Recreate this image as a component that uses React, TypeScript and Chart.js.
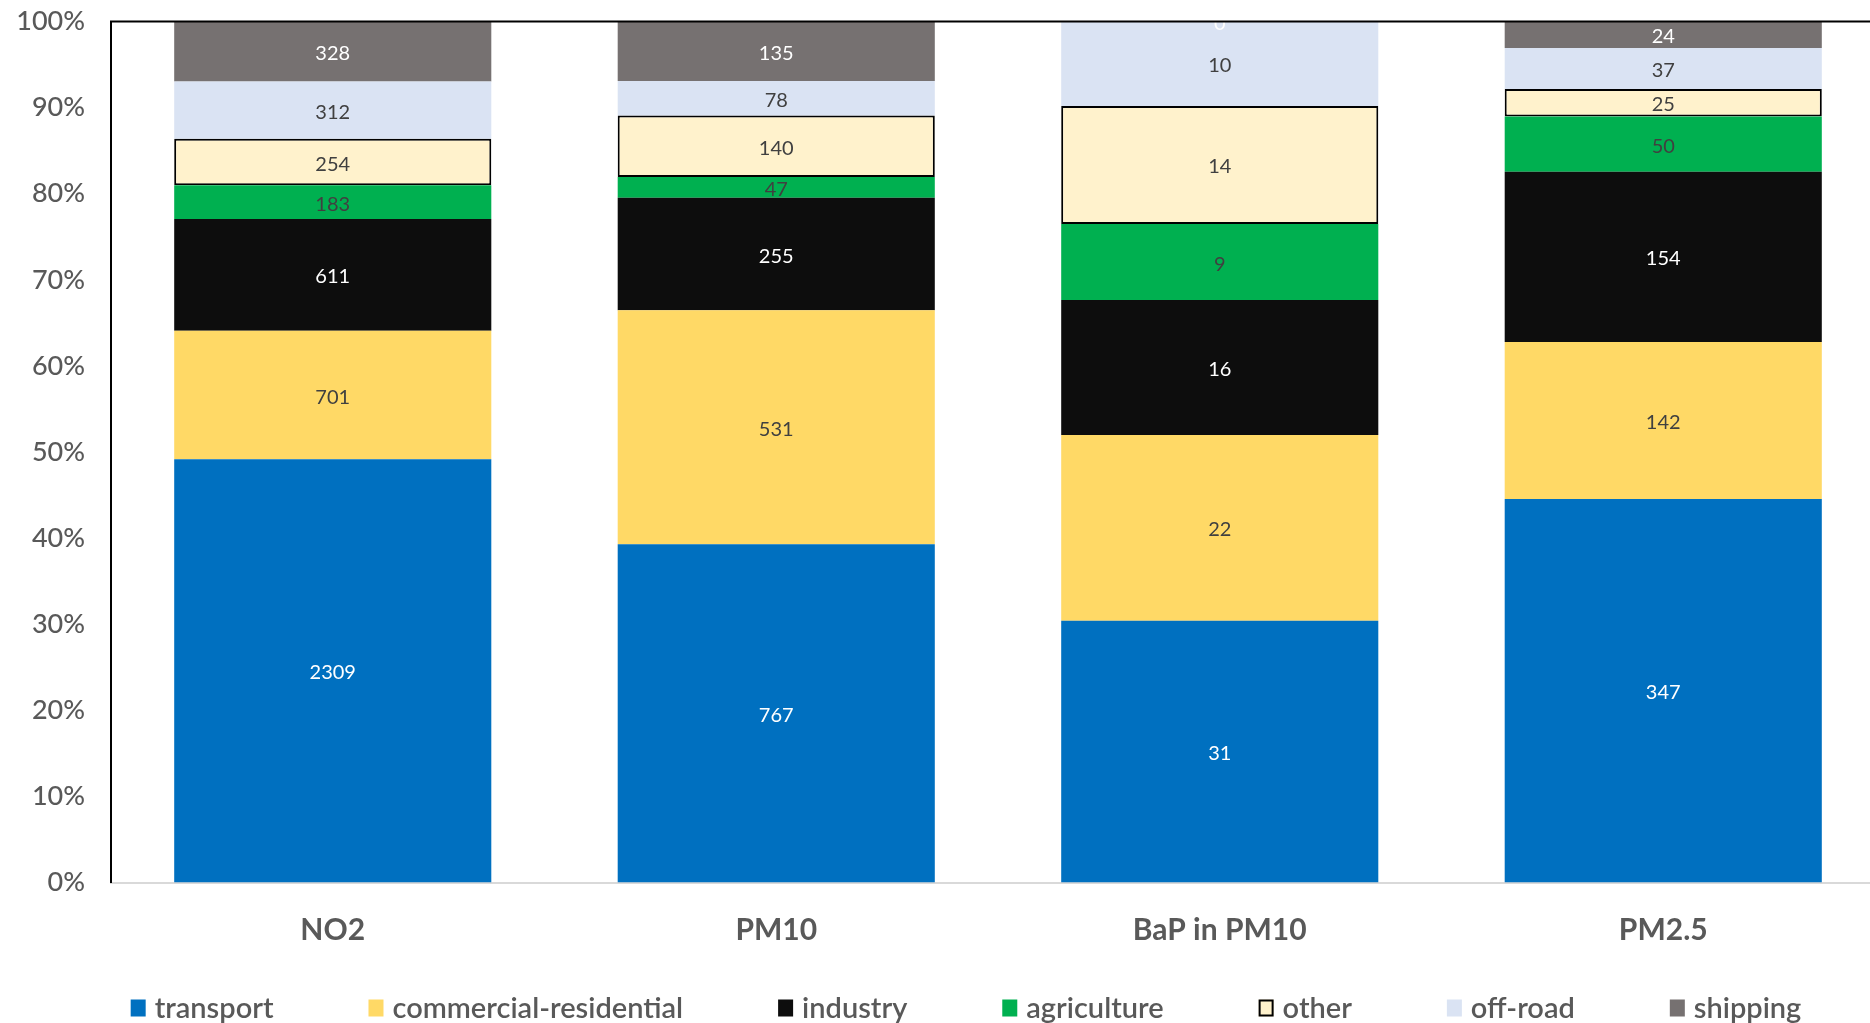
import { useEffect, useRef } from "react";
import { Chart, registerables } from "chart.js";

Chart.register(...registerables);

// Pollutants along the x axis
const categories = ["NO2", "PM10", "BaP in PM10", "PM2.5"];

// Emission sources (stack order, bottom to top)
const sources = [
  "transport",
  "commercial-residential",
  "industry",
  "agriculture",
  "other",
  "off-road",
  "shipping",
];

// Absolute contributions per pollutant
const transport = [2309, 767, 31, 347];
const commercialResidential = [701, 531, 22, 142];
const industry = [611, 255, 16, 154];
const agriculture = [183, 47, 9, 50];
const other = [254, 140, 14, 25];
const offRoad = [312, 78, 10, 37];
const shipping = [328, 135, 0, 24];

const seriesValues = [transport, commercialResidential, industry, agriculture, other, offRoad, shipping];

// Percentage axis ticks
const yTicks = [0, 10, 20, 30, 40, 50, 60, 70, 80, 90, 100];

const fillColors = ["#0070C0", "#FFD966", "#0D0D0D", "#00B050", "#FFF2CC", "#DAE3F3", "#767171"];
const labelColors = ["#FFFFFF", "#404040", "#FFFFFF", "#404040", "#404040", "#404040", "#FFFFFF"];
const borderWidths = [0, 0, 0, 0, 2, 0, 0];

const FONT = "Lato, 'Open Sans', sans-serif";
const TEXT_GREY = "#595959";

// Share of each source within its pollutant column, in percent
const totals = categories.map((_, i) => seriesValues.reduce((s, arr) => s + arr[i], 0));
const shares = seriesValues.map((arr) => arr.map((v, i) => (v / totals[i]) * 100));

// Value labels centred in each stacked segment
const segmentLabels = {
  id: "segmentLabels",
  afterDatasetsDraw(chart: any) {
    const { ctx, chartArea } = chart;
    ctx.save();
    ctx.beginPath();
    ctx.rect(chartArea.left, chartArea.top, chartArea.right - chartArea.left, chartArea.bottom - chartArea.top);
    ctx.clip();
    ctx.font = `20px ${FONT}`;
    ctx.textAlign = "center";
    ctx.textBaseline = "middle";
    chart.data.datasets.forEach((_: any, di: number) => {
      const meta = chart.getDatasetMeta(di);
      meta.data.forEach((el: any, i: number) => {
        const { x, y, base } = el.getProps(["x", "y", "base"], true);
        ctx.fillStyle = labelColors[di];
        ctx.fillText(String(seriesValues[di][i]), x, (y + base) / 2 + 2);
      });
    });
    ctx.restore();
  },
};

// Black rule along the top of the plot area
const topRule = {
  id: "topRule",
  afterDatasetsDraw(chart: any) {
    const { ctx, chartArea } = chart;
    ctx.save();
    ctx.strokeStyle = "#000000";
    ctx.lineWidth = 2;
    ctx.beginPath();
    ctx.moveTo(chartArea.left - 1, chartArea.top);
    ctx.lineTo(chartArea.right, chartArea.top);
    ctx.stroke();
    ctx.restore();
  },
};

// Single-row legend underneath the category labels
const bottomLegend = {
  id: "bottomLegend",
  afterDraw(chart: any) {
    const { ctx } = chart;
    const centerX = 966;
    const centerY = 1008;
    const boxW = 15;
    const boxH = 17;
    const boxGap = 9;
    const itemGap = 95;
    ctx.save();
    ctx.font = `600 29px ${FONT}`;
    ctx.textBaseline = "middle";
    ctx.textAlign = "left";
    const widths = chart.data.datasets.map((ds: any) => boxW + boxGap + ctx.measureText(ds.label).width);
    const total = widths.reduce((a: number, b: number) => a + b, 0) + itemGap * (widths.length - 1);
    let x = centerX - total / 2;
    chart.data.datasets.forEach((ds: any, i: number) => {
      ctx.fillStyle = ds.backgroundColor;
      ctx.fillRect(x, centerY - boxH / 2, boxW, boxH);
      if (ds.borderWidth > 0) {
        ctx.strokeStyle = ds.borderColor;
        ctx.lineWidth = 2;
        ctx.strokeRect(x + 1, centerY - boxH / 2 + 1, boxW - 2, boxH - 2);
      }
      ctx.fillStyle = TEXT_GREY;
      ctx.fillText(ds.label, x + boxW + boxGap, centerY + 1);
      x += widths[i] + itemGap;
    });
    ctx.restore();
  },
};

export default function App() {
  const canvasRef = useRef<HTMLCanvasElement>(null);

  useEffect(() => {
    if (!canvasRef.current) return;
    const chart = new Chart(canvasRef.current, {
      type: "bar",
      data: {
        labels: categories,
        datasets: sources.map((name, di) => ({
          label: name,
          data: shares[di],
          backgroundColor: fillColors[di],
          borderColor: "#000000",
          borderWidth: borderWidths[di],
          borderSkipped: false,
          categoryPercentage: 1,
          barPercentage: 0.715,
        })),
      },
      options: {
        responsive: false,
        animation: false,
        layout: { padding: { left: 10, right: 10, top: 0, bottom: 65.5 } },
        plugins: {
          legend: { display: false },
          tooltip: { enabled: false },
        },
        scales: {
          x: {
            stacked: true,
            grid: { display: false, drawTicks: false },
            border: { display: true, color: "#D9D9D9", width: 2 },
            ticks: {
              color: TEXT_GREY,
              padding: 30,
              font: { family: FONT, size: 30, weight: "bold" },
              maxRotation: 0,
            },
            afterFit(scale: any) {
              scale.height = 75;
            },
          },
          y: {
            stacked: true,
            min: yTicks[0],
            max: yTicks[yTicks.length - 1],
            // hidden tick marks keep the labels clear of the axis line
            grid: { display: false, drawTicks: true, tickLength: 18 },
            border: { display: true, color: "#000000", width: 2 },
            afterBuildTicks(scale: any) {
              scale.ticks = yTicks.map((v) => ({ value: v }));
            },
            ticks: {
              color: TEXT_GREY,
              padding: 8,
              font: { family: FONT, size: 27, weight: "500", lineHeight: 1 },
              callback: (v: any) => `${v}%`,
            },
            afterFit(scale: any) {
              scale.width = 101;
            },
          },
        },
      },
      plugins: [segmentLabels, topRule, bottomLegend],
    });
    return () => chart.destroy();
  }, []);

  return (
    <div
      style={{
        position: "fixed",
        left: 0,
        top: 0,
        width: 1870,
        height: 1023,
        overflow: "hidden",
        background: "#ffffff",
      }}
    >
      <canvas ref={canvasRef} width={1895} height={1023} style={{ display: "block" }} />
    </div>
  );
}
